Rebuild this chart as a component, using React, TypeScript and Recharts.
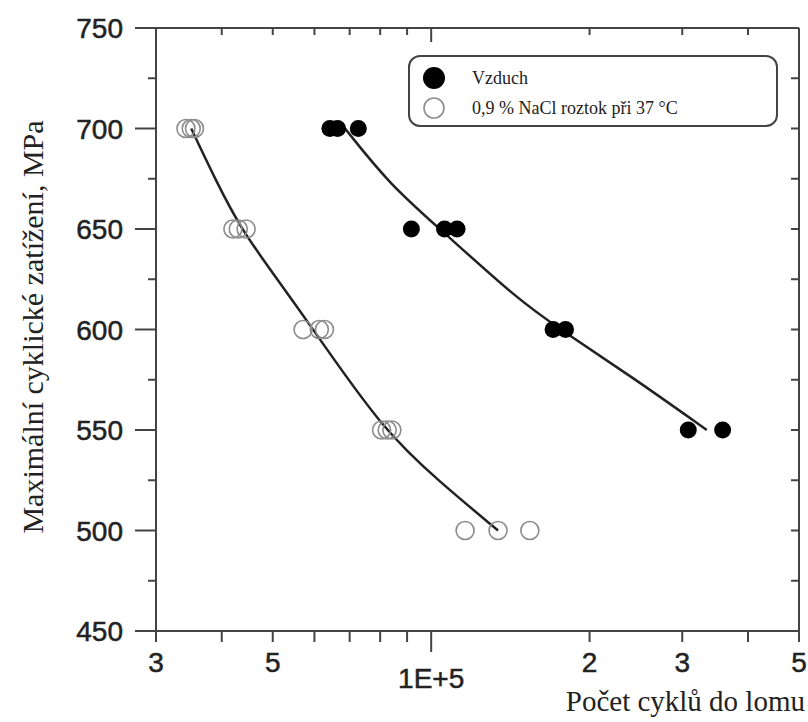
import { ScatterChart, Scatter, XAxis, YAxis, Legend, Label } from 'recharts';

const airCycles = [64200, 66400, 72700, 91700, 106000, 112000, 170500, 180000, 308000, 358000];
const airStress = [700, 700, 700, 650, 650, 650, 600, 600, 550, 550];

const naclCycles = [34200, 35000, 35500, 42000, 43000, 44500, 57100, 61300, 62700, 80500, 82500, 84200, 116000, 134000, 154000];
const naclStress = [700, 700, 700, 650, 650, 650, 600, 600, 600, 550, 550, 550, 500, 500, 500];

// fitted curves
const airFitCycles = [68600, 83500, 104000, 146000, 176000, 242000, 334000];
const airFitStress = [700, 672, 650, 615, 600, 576, 550];

const naclFitCycles = [35000, 39000, 43500, 51000, 59700, 81000, 104000, 134000];
const naclFitStress = [700, 674, 650, 625, 600, 550, 524, 500];

const xTicks = [30000, 40000, 50000, 60000, 70000, 80000, 90000, 100000, 200000, 300000, 400000, 500000];
const xTickLabels: Record<number, string> = { 30000: '3', 50000: '5', 100000: '1E+5', 200000: '2', 300000: '3', 500000: '5' };
const yTicks = [450, 475, 500, 525, 550, 575, 600, 625, 650, 675, 700, 725, 750];

const legendItems = [
  { name: 'Vzduch', filled: true },
  { name: '0,9 % NaCl roztok při 37 °C', filled: false },
];

const zip = (xs: number[], ys: number[]) => xs.map((x, i) => ({ x, y: ys[i] }));

const air = zip(airCycles, airStress);
const nacl = zip(naclCycles, naclStress);
const airFit = zip(airFitCycles, airFitStress);
const naclFit = zip(naclFitCycles, naclFitStress);

const INK = '#222';
const FRAME = '#444';
const OPEN = '#8c8c8c';
const sans = '"Liberation Sans", Arial, sans-serif';
const serif = '"Liberation Serif", "Times New Roman", serif';

const BottomTick = (p: any) => {
  const v = p.payload.value;
  const label = xTickLabels[v];
  const big = v === 100000;
  return (
    <g>
      <line x1={p.x} x2={p.x} y1={p.y} y2={p.y + (big ? 21 : 11)} stroke={FRAME} strokeWidth={2} />
      {label && (
        <text x={p.x} y={p.y + (big ? 57 : 41)} textAnchor="middle" fontFamily={sans} fontSize={28}
          fill={INK} stroke={INK} strokeWidth={0.5}>
          {label}
        </text>
      )}
    </g>
  );
};

const TopTick = (p: any) => {
  const v = p.payload.value;
  if (v === 30000 || v === 500000) return <g />;
  return <line x1={p.x} x2={p.x} y1={p.y} y2={p.y + (v === 100000 ? 14 : 7)} stroke={FRAME} strokeWidth={2} />;
};

const LeftTick = (p: any) => {
  const v = p.payload.value;
  const major = v % 50 === 0;
  return (
    <g>
      <line x1={p.x - (major ? 21 : 8)} x2={p.x} y1={p.y} y2={p.y} stroke={FRAME} strokeWidth={2} />
      {major && (
        <text x={p.x - 33} y={p.y} dy="0.36em" textAnchor="end" fontFamily={sans} fontSize={28}
          fill={INK} stroke={INK} strokeWidth={0.5}>
          {v}
        </text>
      )}
    </g>
  );
};

const RightTick = (p: any) => {
  const v = p.payload.value;
  if (v === 450 || v === 750) return <g />;
  return <line x1={p.x - 8} x2={p.x} y1={p.y} y2={p.y} stroke={FRAME} strokeWidth={2} />;
};

const FilledDot = (p: any) => <circle cx={p.cx} cy={p.cy} r={8.5} fill="#000" />;
const OpenDot = (p: any) => <circle cx={p.cx} cy={p.cy} r={9} fill="none" stroke={OPEN} strokeWidth={1.6} />;
const NoDot = () => <g />;

const LegendBox = () => (
  <div
    style={{
      width: 370,
      height: 72,
      boxSizing: 'border-box',
      border: `2px solid ${FRAME}`,
      borderRadius: 12,
      background: '#fff',
      paddingTop: 6,
      fontFamily: serif,
      fontSize: 18,
      color: INK,
    }}
  >
    {legendItems.map((it) => (
      <div key={it.name} style={{ display: 'flex', alignItems: 'center', height: 30 }}>
        <svg width={62} height={30} style={{ flex: 'none' }}>
          {it.filled ? (
            <circle cx={24} cy={15} r={11} fill="#000" />
          ) : (
            <circle cx={24} cy={15} r={10} fill="none" stroke={OPEN} strokeWidth={1.6} />
          )}
        </svg>
        <span>{it.name}</span>
      </div>
    ))}
  </div>
);

export default function App() {
  return (
    <div style={{ position: 'absolute', left: 0, top: 0, background: '#fff' }}>
      <ScatterChart width={808} height={722} margin={{ top: 0, right: 0, bottom: 0, left: 0 }}>
        <XAxis
          xAxisId="b"
          dataKey="x"
          type="number"
          scale="log"
          domain={[30000, 500000]}
          allowDataOverflow
          ticks={xTicks}
          interval={0}
          height={91}
          tickSize={0}
          tickMargin={0}
          tickLine={false}
          tick={BottomTick}
          axisLine={{ stroke: FRAME, strokeWidth: 2 }}
        >
          <Label
            content={() => (
              <text x={805} y={711} textAnchor="end" fontFamily={serif} fontSize={29} fill={INK}>
                Počet cyklů do lomu
              </text>
            )}
          />
        </XAxis>
        <XAxis
          xAxisId="t"
          orientation="top"
          dataKey="x"
          type="number"
          scale="log"
          domain={[30000, 500000]}
          allowDataOverflow
          ticks={xTicks}
          interval={0}
          height={28}
          tickSize={0}
          tickMargin={0}
          tickLine={false}
          tick={TopTick}
          axisLine={{ stroke: FRAME, strokeWidth: 2 }}
        />
        <YAxis
          yAxisId="l"
          dataKey="y"
          type="number"
          domain={[450, 750]}
          allowDataOverflow
          ticks={yTicks}
          interval={0}
          width={156}
          tickSize={0}
          tickMargin={0}
          tickLine={false}
          tick={LeftTick}
          axisLine={{ stroke: FRAME, strokeWidth: 2 }}
        >
          <Label
            content={() => (
              <text
                x={32}
                y={327}
                transform="rotate(-90 32 327)"
                textAnchor="middle"
                dominantBaseline="central"
                fontFamily={serif}
                fontSize={30}
                fill={INK}
              >
                Maximální cyklické zatížení, MPa
              </text>
            )}
          />
        </YAxis>
        <YAxis
          yAxisId="r"
          orientation="right"
          dataKey="y"
          type="number"
          domain={[450, 750]}
          allowDataOverflow
          ticks={yTicks}
          interval={0}
          width={9}
          tickSize={0}
          tickMargin={0}
          tickLine={false}
          tick={RightTick}
          axisLine={{ stroke: FRAME, strokeWidth: 2 }}
        />
        <Legend
          layout="horizontal"
          verticalAlign="middle"
          align="center"
          content={LegendBox}
          wrapperStyle={{ position: 'absolute', left: 408, top: 55, width: 370, height: 72 }}
        />
        <Scatter
          xAxisId="b"
          yAxisId="l"
          data={naclFit}
          shape={NoDot}
          line={{ stroke: INK, strokeWidth: 2.5 }}
          lineJointType="basis"
          legendType="none"
          isAnimationActive={false}
        />
        <Scatter
          xAxisId="b"
          yAxisId="l"
          data={airFit}
          shape={NoDot}
          line={{ stroke: INK, strokeWidth: 2.5 }}
          lineJointType="basis"
          legendType="none"
          isAnimationActive={false}
        />
        <Scatter xAxisId="b" yAxisId="l" name="0,9 % NaCl roztok při 37 °C" data={nacl} shape={OpenDot} isAnimationActive={false} />
        <Scatter xAxisId="b" yAxisId="l" name="Vzduch" data={air} shape={FilledDot} isAnimationActive={false} />
      </ScatterChart>
    </div>
  );
}
